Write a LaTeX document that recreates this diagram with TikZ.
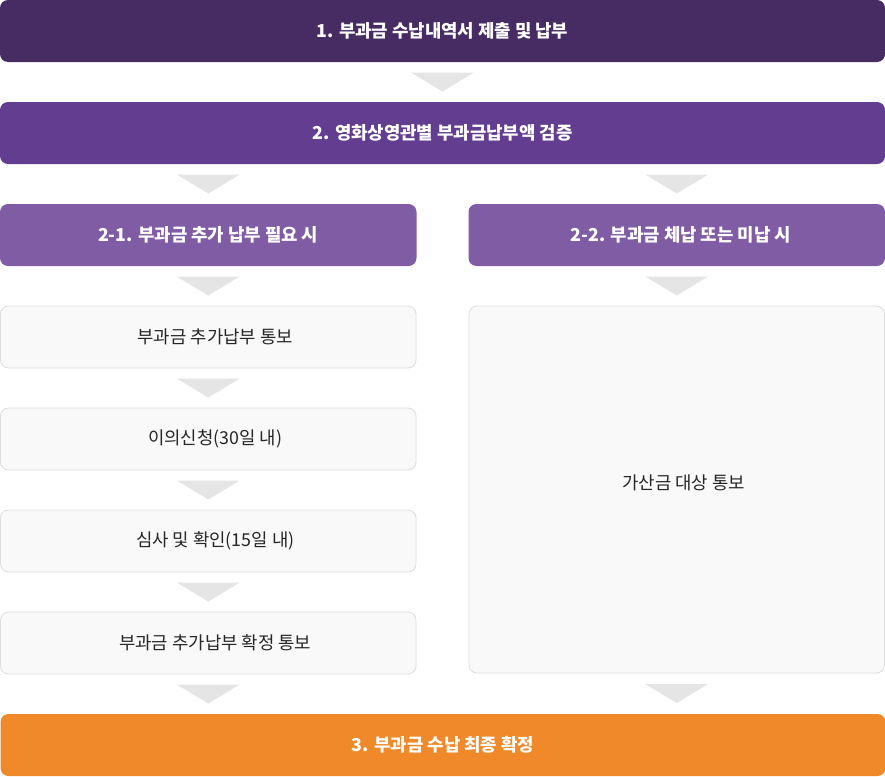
\documentclass[tikz,border=0pt]{standalone}
\usepackage{fontspec}
\setmainfont{Noto Sans CJK KR}
\usepackage{xcolor}
\usepackage{tikz}
\usetikzlibrary{positioning, calc}

\definecolor{stepdark}{HTML}{472B63}
\definecolor{stepmid}{HTML}{633D8F}
\definecolor{steplight}{HTML}{7F5CA3}
\definecolor{steporange}{HTML}{F0892A}
\definecolor{notefill}{HTML}{F9F9F9}
\definecolor{noteline}{HTML}{DDDDDD}
\definecolor{trifill}{HTML}{E5E5E5}

\newcommand{\flowtri}[1]{\fill[tri] (#1) ++(-31.5pt,9.5pt) -- ++(63pt,0) -- ++(-31.5pt,-19pt) -- cycle;}

\begin{document}
\begin{tikzpicture}[
        node distance=40pt and 52pt,
        base/.style={rectangle, rounded corners=8pt, minimum height=62pt, inner sep=0pt, outer sep=0pt, align=center, font=\fontsize{17.8pt}{21pt}\selectfont},
        head/.style={base, text=white, font=\fontsize{17.8pt}{21pt}\selectfont\bfseries},
        note/.style={base, fill=notefill, draw=noteline, line width=0.8pt, text=black!85, execute at begin node=\hspace*{14pt}},
        tri/.style={fill=trifill}
    ]
        \useasboundingbox (0,0) rectangle (885pt,-776pt);

        % Nodes
        \node[head, fill=stepdark, minimum width=885pt, anchor=north west] (s1) at (0,0) {1. 부과금 수납내역서 제출 및 납부};
        \node[head, fill=stepmid, minimum width=885pt, below=of s1] (s2) {2. 영화상영관별 부과금납부액 검증};
        \node[head, fill=steplight, minimum width=416.5pt, below=of s2.south west, anchor=north west] (s21) {2-1. 부과금 추가 납부 필요 시};
        \node[head, fill=steplight, minimum width=416.5pt, below=of s2.south east, anchor=north east] (s22) {\hspace*{8pt}2-2. 부과금 체납 또는 미납 시};
        \node[note, minimum width=415.5pt, below=of s21] (l1) {부과금 추가납부 통보};
        \node[note, minimum width=415.5pt, below=of l1] (l2) {이의신청(30일 내)};
        \node[note, minimum width=415.5pt, below=of l2] (l3) {심사 및 확인(15일 내)};
        \node[note, minimum width=415.5pt, below=of l3] (l4) {부과금 추가납부 확정 통보};
        \node[note, minimum width=415.5pt, minimum height=367pt, below=of s22] (r1) {\raisebox{15pt}{가산금 대상 통보}};
        \node[head, fill=steporange, minimum width=885pt, below=of l4.south west, anchor=north west] (s3) {3. 부과금 수납 최종 확정};

        % Arrows
        \flowtri{$(s1.south)!0.5!(s2.north)$}
        \flowtri{$(s21.north |- s2.south)!0.5!(s21.north)$}
        \flowtri{$(s22.north |- s2.south)!0.5!(s22.north)$}
        \flowtri{$(s21.south)!0.5!(l1.north)$}
        \flowtri{$(s22.south)!0.5!(r1.north)$}
        \flowtri{$(l1.south)!0.5!(l2.north)$}
        \flowtri{$(l2.south)!0.5!(l3.north)$}
        \flowtri{$(l3.south)!0.5!(l4.north)$}
        \flowtri{$(l4.south)!0.5!(l4.south |- s3.north)$}
        \flowtri{$(r1.south)!0.5!(r1.south |- s3.north)$}
    \end{tikzpicture}
\end{document}
